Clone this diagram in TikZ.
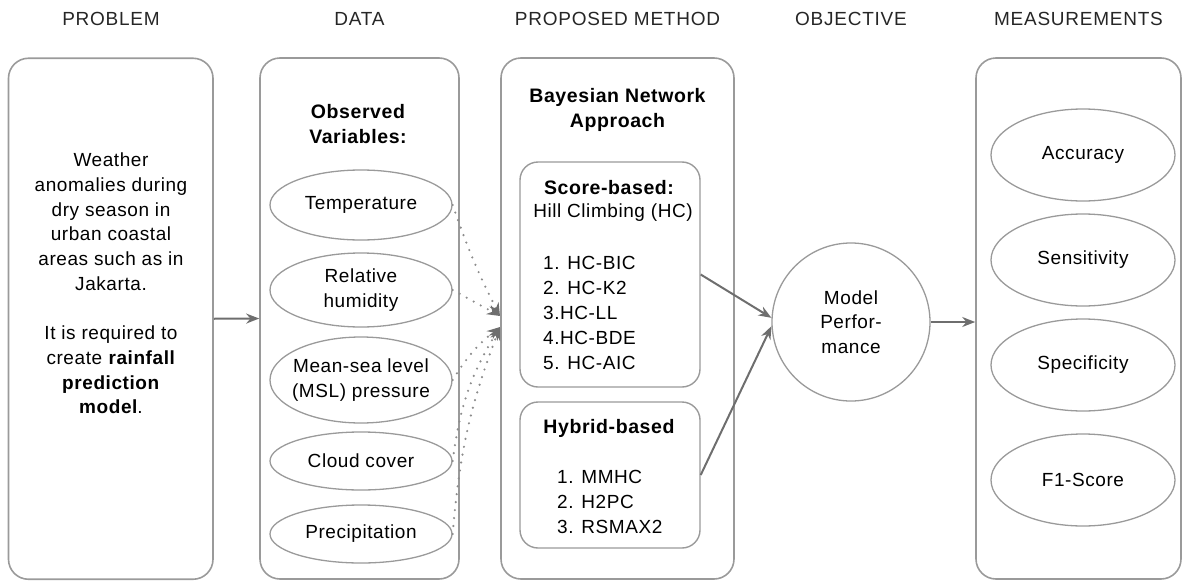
\documentclass[tikz,border=0pt]{standalone}
\usepackage{fontspec}
\setmainfont[LetterSpace=3]{Liberation Sans}
\newfontfamily\headfont[LetterSpace=4]{Liberation Sans}
\usetikzlibrary{arrows.meta,shapes.geometric}

\definecolor{framegray}{HTML}{9A9A9A}
\definecolor{arrowgray}{HTML}{6E6E6E}
\definecolor{dotgray}{HTML}{8C8C8C}

\begin{document}
\begin{tikzpicture}[x=1pt,y=-1pt,
  every node/.style={font=\fontsize{19}{24.7}\selectfont, text=black, inner sep=0pt},
  head/.style={font=\headfont\fontsize{19}{22}\selectfont, text=black!85},
  title/.style={align=center, font=\fontsize{19.5}{25}\selectfont\bfseries},
  listtext/.style={align=left, anchor=west, font=\fontsize{19}{25}\selectfont},
  panel/.style={draw=framegray, line width=1.6pt, rounded corners=20pt,
    minimum width=#1, minimum height=521pt},
  subbox/.style={draw=framegray, line width=1.4pt, rounded corners=18pt,
    minimum width=180pt},
  var/.style={draw=framegray, line width=1.3pt, ellipse, align=center,
    minimum width=182pt},
  metric/.style={draw=framegray, line width=1.3pt, ellipse,
    minimum width=184pt, minimum height=92pt},
  flow/.style={draw=arrowgray, line width=2pt,
    -{Stealth[length=13pt,width=10pt]}},
  feed/.style={draw=dotgray, line width=2.4pt, line cap=round,
    dash pattern=on 0pt off 8pt,
    -{Stealth[length=13pt,width=10pt,color=arrowgray]}}
]
\useasboundingbox (0,0) rectangle (1184,581);

% column headings
\node[head] (h1) at (111,19) {PROBLEM};
\node[head] (h2) at (359.5,19) {DATA};
\node[head] (h3) at (617.5,19) {PROPOSED METHOD};
\node[head] (h4) at (851,19) {OBJECTIVE};
\node[head] (h5) at (1078.5,19) {MEASUREMENTS};

% problem statement
\node[panel=204.5pt] (pb) at (110.75,318.75) {};
\node[align=center] (pt) at (111,283.5) {Weather\\anomalies during\\dry season in\\urban coastal\\areas such as in\\Jakarta.\\[24.7pt]It is required to\\create \textbf{rainfall}\\\textbf{prediction}\\\textbf{model}.};

% observed data
\node[panel=199pt] (db) at (359.5,318.5) {};
\node[title] (dt) at (358,124.5) {Observed\\Variables:};
\node[var, minimum height=70pt] (v1) at (361,205) {Temperature};
\node[var, minimum height=74pt] (v2) at (361,290) {Relative\\humidity};
\node[var, minimum height=86pt] (v3) at (361,380) {};
\node[align=center] (v3t) at (v3) {Mean-sea level\\(MSL) pressure};
\node[var, minimum height=58pt] (v4) at (361,461) {Cloud cover};
\node[var, minimum height=58pt] (v5) at (361,534) {Precipitation};

% proposed method
\node[panel=233pt] (pm) at (617.5,318.5) {};
\node[title] (pmt) at (617.5,109.5) {Bayesian Network\\Approach};
\node[subbox, minimum height=225pt] (sb) at (610,274.5) {};
\node[title] (sbt) at (609,188) {Score-based:};
\node (hc) at (613,213) {Hill Climbing (HC)};
\node[listtext] (hcl) at (543,313) {1. HC-BIC\\2. HC-K2\\3.HC-LL\\4.HC-BDE\\5. HC-AIC};
\node[subbox, minimum height=146pt] (hb) at (610,475) {};
\node[title] (hbt) at (609,428) {Hybrid-based};
\node[listtext] (hbl) at (557,502) {1. MMHC\\2. H2PC\\3. RSMAX2};

% objective
\node[draw=framegray, line width=1.3pt, circle, minimum size=158pt,
  align=center] (mp) at (851,322) {Model\\Perfor-\\mance};

% measurements
\node[panel=205pt] (mb) at (1078.5,318.5) {};
\node[metric] (m1) at (1083,155) {Accuracy};
\node[metric] (m2) at (1083,260) {Sensitivity};
\node[metric] (m3) at (1083,365) {Specificity};
\node[metric] (m4) at (1083,480) {F1-Score};

% main flow
\draw[flow] (pb.east) -- (db.west);
\draw[flow] (sb.east) -- (mp.177);
\draw[flow] (hb.east) -- (mp.183);
\draw[flow] (mp.east) -- (mp.east -| mb.west);

% variables feeding the network learner
\coordinate (ta) at (500,316);
\coordinate (tb) at (500,327);
\draw[feed] (v1.east) to[bend right=4] (ta);
\draw[feed] (v2.east) -- (ta);
\draw[feed] (v3.east) to[bend left=10] (tb);
\draw[feed] (v4.east) to[bend left=12] (tb);
\draw[feed] (v5.east) to[bend left=8] (tb);
\end{tikzpicture}
\end{document}
